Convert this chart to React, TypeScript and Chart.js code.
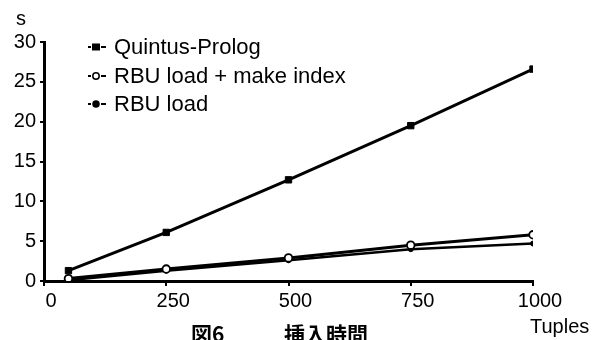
import React, { useEffect, useRef } from "react";
import { Chart, registerables } from "chart.js";

Chart.register(...registerables);

const tuples = [50, 250, 500, 750, 1000];
const quintusProlog = [1.3, 6.1, 12.7, 19.5, 26.6];
const rbuLoadIndex = [0.3, 1.5, 2.9, 4.5, 5.8];
const rbuLoad = [0.1, 1.3, 2.6, 4.0, 4.7];
const seriesLabels = ["Quintus-Prolog", "RBU load + make index", "RBU load"];
const xTicks = [0, 250, 500, 750, 1000];
const yTicks = [0, 5, 10, 15, 20, 25, 30];
const yUnit = "s";
const xUnit = "Tuples";
const captionFig = "図6";
const captionTitle = "挿入時間";

const FONT = "'Liberation Sans', Arial, Helvetica, sans-serif";

export default function App() {
  const ref = useRef<HTMLCanvasElement | null>(null);
  useEffect(() => {
    const canvas = ref.current;
    if (!canvas) return;
    const markerStyles = [
      { style: "rect", radius: 4.5, bg: "#000", border: "#000", bw: 1 },
      { style: "circle", radius: 3.8, bg: "#fff", border: "#000", bw: 1.8 },
      { style: "circle", radius: 2.5, bg: "#000", border: "#000", bw: 1 },
    ];
    const dataArrays = [quintusProlog, rbuLoadIndex, rbuLoad];
    const lineWidths = [3, 3, 2.5];
    const datasets = dataArrays.map((arr, i) => ({
      label: seriesLabels[i],
      data: arr.map((v, j) => ({ x: tuples[j], y: v })),
      borderColor: "#000",
      backgroundColor: markerStyles[i].bg,
      borderWidth: lineWidths[i],
      pointStyle: markerStyles[i].style as any,
      pointRadius: markerStyles[i].radius,
      pointBackgroundColor: markerStyles[i].bg,
      pointBorderColor: markerStyles[i].border,
      pointBorderWidth: markerStyles[i].bw,
      tension: 0,
    }));

    const extras = {
      id: "extras",
      afterDraw(chart: any) {
        const ctx = chart.ctx;
        ctx.save();
        ctx.fillStyle = "#000";
        ctx.strokeStyle = "#000";
        ctx.font = `20px ${FONT}`;
        ctx.textAlign = "center";
        ctx.textBaseline = "middle";
        ctx.fillText(yUnit, 21, 19);
        ctx.textAlign = "left";
        ctx.fillText(xUnit, 530, 327);
        ctx.font = `bold 21px 'Noto Sans CJK JP', sans-serif`;
        ctx.textBaseline = "top";
        ctx.fillText(captionFig, 191, 324);
        ctx.fillText(captionTitle, 284, 324);
        ctx.font = `22px ${FONT}`;
        ctx.textBaseline = "middle";
        const rows = [47, 76, 104];
        rows.forEach((y, i) => {
          const m = markerStyles[i];
          const cx = 96;
          ctx.lineWidth = 2;
          ctx.beginPath();
          ctx.moveTo(88, y);
          ctx.lineTo(91, y);
          ctx.moveTo(101, y);
          ctx.lineTo(106, y);
          ctx.stroke();
          ctx.beginPath();
          if (m.style === "rect") {
            ctx.fillStyle = "#000";
            ctx.fillRect(cx - 4, y - 3.5, 8, 7);
          } else {
            ctx.arc(cx, y, i === 1 ? 3.2 : 3, 0, Math.PI * 2);
            ctx.fillStyle = m.bg;
            ctx.fill();
            ctx.lineWidth = 1.5;
            ctx.stroke();
          }
          ctx.fillStyle = "#000";
          ctx.textAlign = "left";
          ctx.fillText(seriesLabels[i], 114, y + 1);
        });
        ctx.restore();
      },
    };

    const chart = new Chart(canvas, {
      type: "line",
      data: { datasets },
      options: {
        animation: false,
        responsive: false,
        maintainAspectRatio: false,
        layout: { padding: { top: 42, right: 61, left: 0, bottom: 0 } },
        plugins: { legend: { display: false }, tooltip: { enabled: false } },
        scales: {
          x: {
            type: "linear",
            min: 0,
            max: 1000,
            afterBuildTicks: (s: any) => {
              s.ticks = xTicks.map((v) => ({ value: v }));
            },
            afterFit: (s: any) => {
              s.height = 59;
            },
            border: { display: true, color: "#000", width: 3 },
            grid: { drawOnChartArea: false, drawTicks: true, tickLength: 5, color: "#000", lineWidth: 2 },
            ticks: {
              color: "#000",
              font: { family: FONT, size: 20 },
              padding: 3,
              labelOffset: 7,
              maxRotation: 0,
              callback: (v: any) => String(v),
            },
          },
          y: {
            type: "linear",
            min: 0,
            max: 30,
            afterBuildTicks: (s: any) => {
              s.ticks = yTicks.map((v) => ({ value: v }));
            },
            afterFit: (s: any) => {
              s.width = 44;
            },
            border: { display: true, color: "#000", width: 3 },
            grid: { drawOnChartArea: false, drawTicks: true, tickLength: 4, color: "#000", lineWidth: 2 },
            ticks: { color: "#000", font: { family: FONT, size: 20 }, padding: 4, callback: (v: any) => String(v) },
          },
        },
      },
      plugins: [extras],
    } as any);
    return () => chart.destroy();
  }, []);
  return (
    <div style={{ position: "fixed", left: 0, top: 0, width: 594, height: 340, background: "#fff" }}>
      <canvas ref={ref} width={594} height={340} style={{ display: "block" }} />
    </div>
  );
}
